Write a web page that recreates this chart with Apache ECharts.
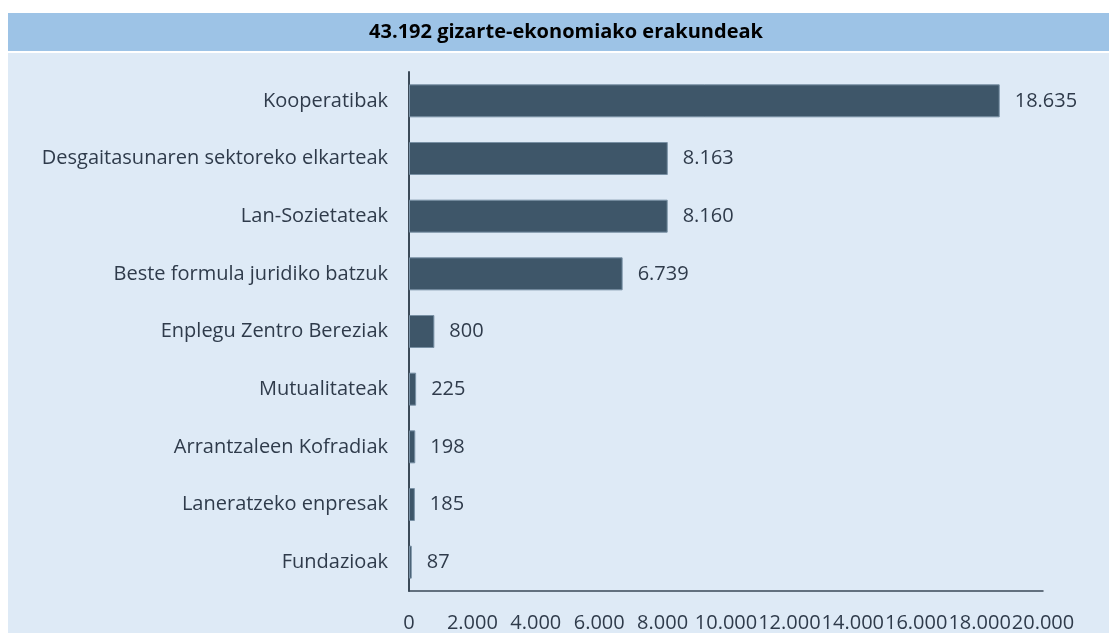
<!DOCTYPE html>
<html>
<head>
<meta charset="utf-8">
<script src="https://cdn.jsdelivr.net/npm/echarts@6/dist/echarts.min.js"></script>
<style>
    html, body { margin: 0; padding: 0; background: #ffffff; }
    #chart { width: 1109px; height: 633px; }
</style>
</head>
<body>
<div id="chart"></div>
<script>
    var titleText = '43.192 gizarte-ekonomiako erakundeak';
    var categories = [
        'Kooperatibak',
        'Desgaitasunaren sektoreko elkarteak',
        'Lan-Sozietateak',
        'Beste formula juridiko batzuk',
        'Enplegu Zentro Bereziak',
        'Mutualitateak',
        'Arrantzaleen Kofradiak',
        'Laneratzeko enpresak',
        'Fundazioak'
    ];
    var values = [18635, 8163, 8160, 6739, 800, 225, 198, 185, 87];
    var xTicks = [0, 2000, 4000, 6000, 8000, 10000, 12000, 14000, 16000, 18000, 20000];

    var font = '"Open Sans", sans-serif';
    var textColor = '#2f3b4b';

    function fmt(v) {
        // punto como separador de miles
        return String(v).replace(/\B(?=(\d{3})+(?!\d))/g, '.');
    }

    var chart = echarts.init(document.getElementById('chart'), null, { renderer: 'canvas' });
    chart.setOption({
        animation: false,
        textStyle: { fontFamily: font },
        graphic: [
            {
                type: 'rect', z: -10, silent: true,
                shape: { x: 8, y: 13, width: 1101, height: 38 },
                style: { fill: '#9dc3e6' }
            },
            {
                type: 'rect', z: -10, silent: true,
                shape: { x: 8, y: 53, width: 1101, height: 580 },
                style: { fill: '#deeaf6' }
            },
            {
                type: 'text', silent: true,
                x: 566, y: 32,
                style: {
                    text: titleText,
                    fontFamily: font,
                    fontWeight: 'bold',
                    fontSize: 20,
                    fill: '#000000',
                    align: 'center',
                    verticalAlign: 'middle'
                }
            }
        ],
        grid: {
            left: 409,
            right: 66,
            top: 72,
            bottom: 42,
            containLabel: false
        },
        xAxis: {
            type: 'value',
            min: xTicks[0],
            max: xTicks[xTicks.length - 1],
            interval: xTicks[1] - xTicks[0],
            splitLine: { show: false },
            axisTick: { show: false },
            axisLine: { show: true, lineStyle: { color: '#3b4a58', width: 1.5 } },
            axisLabel: {
                margin: 22,
                fontSize: 20,
                color: textColor,
                fontFamily: font,
                hideOverlap: false,
                formatter: function (v) { return fmt(v); }
            }
        },
        yAxis: {
            type: 'category',
            data: categories,
            inverse: true,
            axisTick: { show: false },
            axisLine: { show: true, lineStyle: { color: '#3b4a58', width: 2 } },
            axisLabel: {
                margin: 21,
                fontSize: 20,
                color: textColor,
                fontFamily: font
            }
        },
        series: [
            {
                type: 'bar',
                data: values,
                barWidth: 33,
                itemStyle: {
                    color: '#3e5669',
                    borderColor: '#7890a4',
                    borderWidth: 1
                },
                label: {
                    show: true,
                    position: 'right',
                    distance: 15,
                    fontSize: 20,
                    color: textColor,
                    fontFamily: font,
                    formatter: function (p) { return fmt(p.value); }
                }
            }
        ]
    });
</script>
</body>
</html>
